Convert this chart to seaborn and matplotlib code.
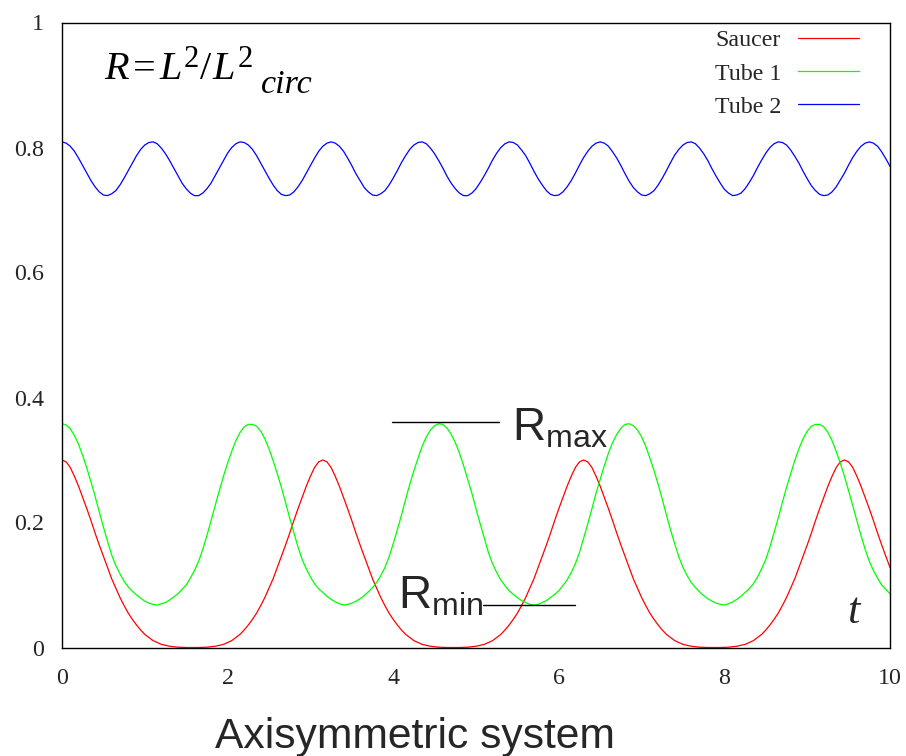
import matplotlib
matplotlib.use('Agg')
import matplotlib.pyplot as plt
import seaborn as sns
import pandas as pd

t = [0.00, 0.05, 0.10, 0.15, 0.20, 0.25, 0.30, 0.35, 0.40, 0.45, 0.50, 0.55, 0.60, 0.65, 0.70, 0.75, 0.80, 0.85, 0.90, 0.95,
     1.00, 1.05, 1.10, 1.15, 1.20, 1.25, 1.30, 1.35, 1.40, 1.45, 1.50, 1.55, 1.60, 1.65, 1.70, 1.75, 1.80, 1.85, 1.90, 1.95,
     2.00, 2.05, 2.10, 2.15, 2.20, 2.25, 2.30, 2.35, 2.40, 2.45, 2.50, 2.55, 2.60, 2.65, 2.70, 2.75, 2.80, 2.85, 2.90, 2.95,
     3.00, 3.05, 3.10, 3.15, 3.20, 3.25, 3.30, 3.35, 3.40, 3.45, 3.50, 3.55, 3.60, 3.65, 3.70, 3.75, 3.80, 3.85, 3.90, 3.95,
     4.00, 4.05, 4.10, 4.15, 4.20, 4.25, 4.30, 4.35, 4.40, 4.45, 4.50, 4.55, 4.60, 4.65, 4.70, 4.75, 4.80, 4.85, 4.90, 4.95,
     5.00, 5.05, 5.10, 5.15, 5.20, 5.25, 5.30, 5.35, 5.40, 5.45, 5.50, 5.55, 5.60, 5.65, 5.70, 5.75, 5.80, 5.85, 5.90, 5.95,
     6.00, 6.05, 6.10, 6.15, 6.20, 6.25, 6.30, 6.35, 6.40, 6.45, 6.50, 6.55, 6.60, 6.65, 6.70, 6.75, 6.80, 6.85, 6.90, 6.95,
     7.00, 7.05, 7.10, 7.15, 7.20, 7.25, 7.30, 7.35, 7.40, 7.45, 7.50, 7.55, 7.60, 7.65, 7.70, 7.75, 7.80, 7.85, 7.90, 7.95,
     8.00, 8.05, 8.10, 8.15, 8.20, 8.25, 8.30, 8.35, 8.40, 8.45, 8.50, 8.55, 8.60, 8.65, 8.70, 8.75, 8.80, 8.85, 8.90, 8.95,
     9.00, 9.05, 9.10, 9.15, 9.20, 9.25, 9.30, 9.35, 9.40, 9.45, 9.50, 9.55, 9.60, 9.65, 9.70, 9.75, 9.80, 9.85, 9.90, 9.95,
     10.00]

saucer = [0.300, 0.297, 0.288, 0.274, 0.258, 0.240, 0.222, 0.203, 0.183, 0.164, 0.146, 0.128, 0.110, 0.095, 0.080, 0.067, 0.055, 0.045, 0.036, 0.028,
          0.021, 0.016, 0.011, 0.008, 0.005, 0.0035, 0.002, 0.0012, 0.0005, 0.0002, 0.0, 0.0, 0.0, 0.0, 0.0002, 0.0005, 0.0012, 0.002, 0.0035, 0.005,
          0.008, 0.011, 0.016, 0.021, 0.028, 0.036, 0.045, 0.055, 0.067, 0.080, 0.095, 0.110, 0.128, 0.146, 0.164, 0.183, 0.203, 0.222, 0.240, 0.258,
          0.274, 0.288, 0.297, 0.300, 0.297, 0.288, 0.274, 0.258, 0.240, 0.222, 0.203, 0.183, 0.164, 0.146, 0.128, 0.110, 0.095, 0.080, 0.067, 0.055,
          0.045, 0.036, 0.028, 0.021, 0.016, 0.011, 0.008, 0.005, 0.0035, 0.002, 0.0012, 0.0005, 0.0002, 0.0, 0.0, 0.0, 0.0, 0.0002, 0.0005, 0.0012,
          0.002, 0.0035, 0.005, 0.008, 0.011, 0.016, 0.021, 0.028, 0.036, 0.045, 0.055, 0.067, 0.080, 0.095, 0.110, 0.128, 0.146, 0.164, 0.183, 0.203,
          0.222, 0.240, 0.258, 0.274, 0.288, 0.297, 0.300, 0.297, 0.288, 0.274, 0.258, 0.240, 0.222, 0.203, 0.183, 0.164, 0.146, 0.128, 0.110, 0.095,
          0.080, 0.067, 0.055, 0.045, 0.036, 0.028, 0.021, 0.016, 0.011, 0.008, 0.005, 0.0035, 0.002, 0.0012, 0.0005, 0.0002, 0.0, 0.0, 0.0, 0.0,
          0.0002, 0.0005, 0.0012, 0.002, 0.0035, 0.005, 0.008, 0.011, 0.016, 0.021, 0.028, 0.036, 0.045, 0.055, 0.067, 0.080, 0.095, 0.110, 0.128, 0.146,
          0.164, 0.183, 0.203, 0.222, 0.240, 0.258, 0.274, 0.288, 0.297, 0.300, 0.297, 0.288, 0.274, 0.258, 0.240, 0.222, 0.203, 0.183, 0.164, 0.146,
          0.128]

tube1 = [0.358, 0.356, 0.350, 0.339, 0.325, 0.307, 0.287, 0.265, 0.242, 0.217, 0.193, 0.170, 0.148, 0.131, 0.118, 0.106, 0.097, 0.090, 0.084, 0.079,
         0.074, 0.071, 0.069, 0.068, 0.070, 0.072, 0.076, 0.081, 0.086, 0.093, 0.100, 0.111, 0.123, 0.138, 0.157, 0.179, 0.203, 0.227, 0.251, 0.274,
         0.295, 0.314, 0.331, 0.344, 0.353, 0.357, 0.357, 0.354, 0.346, 0.334, 0.318, 0.299, 0.278, 0.256, 0.232, 0.207, 0.184, 0.161, 0.141, 0.126,
         0.113, 0.102, 0.094, 0.088, 0.082, 0.077, 0.073, 0.070, 0.068, 0.069, 0.071, 0.074, 0.078, 0.083, 0.089, 0.096, 0.104, 0.115, 0.128, 0.145,
         0.166, 0.188, 0.212, 0.237, 0.261, 0.283, 0.303, 0.322, 0.337, 0.348, 0.355, 0.358, 0.357, 0.351, 0.341, 0.328, 0.311, 0.291, 0.269, 0.247,
         0.222, 0.198, 0.175, 0.152, 0.134, 0.120, 0.108, 0.099, 0.091, 0.085, 0.080, 0.075, 0.072, 0.069, 0.068, 0.069, 0.072, 0.075, 0.080, 0.085,
         0.091, 0.099, 0.108, 0.120, 0.134, 0.152, 0.175, 0.198, 0.222, 0.247, 0.269, 0.291, 0.311, 0.328, 0.341, 0.351, 0.357, 0.358, 0.355, 0.348,
         0.337, 0.322, 0.303, 0.283, 0.261, 0.237, 0.212, 0.188, 0.166, 0.145, 0.128, 0.115, 0.104, 0.096, 0.089, 0.083, 0.078, 0.074, 0.071, 0.069,
         0.068, 0.070, 0.073, 0.077, 0.082, 0.088, 0.094, 0.102, 0.113, 0.126, 0.141, 0.161, 0.184, 0.207, 0.232, 0.256, 0.278, 0.299, 0.318, 0.334,
         0.346, 0.354, 0.357, 0.357, 0.353, 0.344, 0.331, 0.314, 0.295, 0.274, 0.251, 0.227, 0.203, 0.179, 0.157, 0.138, 0.123, 0.111, 0.100, 0.093,
         0.086]

tube2 = [0.809, 0.807, 0.802, 0.794, 0.783, 0.771, 0.759, 0.747, 0.737, 0.729, 0.724, 0.723, 0.726, 0.731, 0.740, 0.751, 0.763, 0.775, 0.787, 0.797,
         0.804, 0.808, 0.809, 0.806, 0.799, 0.790, 0.779, 0.767, 0.755, 0.743, 0.734, 0.727, 0.723, 0.723, 0.727, 0.734, 0.743, 0.755, 0.767, 0.779,
         0.791, 0.800, 0.806, 0.809, 0.808, 0.804, 0.797, 0.787, 0.775, 0.763, 0.751, 0.740, 0.731, 0.725, 0.723, 0.724, 0.729, 0.737, 0.747, 0.759,
         0.771, 0.783, 0.794, 0.802, 0.807, 0.809, 0.807, 0.802, 0.794, 0.783, 0.771, 0.758, 0.747, 0.736, 0.729, 0.724, 0.723, 0.726, 0.731, 0.740,
         0.751, 0.763, 0.776, 0.787, 0.797, 0.804, 0.808, 0.809, 0.806, 0.799, 0.790, 0.779, 0.767, 0.754, 0.743, 0.734, 0.727, 0.723, 0.723, 0.727,
         0.734, 0.744, 0.755, 0.767, 0.780, 0.791, 0.800, 0.806, 0.809, 0.808, 0.804, 0.796, 0.787, 0.775, 0.762, 0.750, 0.740, 0.731, 0.725, 0.723,
         0.724, 0.729, 0.737, 0.747, 0.759, 0.772, 0.784, 0.794, 0.802, 0.807, 0.809, 0.807, 0.802, 0.793, 0.783, 0.771, 0.758, 0.746, 0.736, 0.729,
         0.724, 0.723, 0.726, 0.731, 0.740, 0.751, 0.763, 0.776, 0.788, 0.797, 0.804, 0.808, 0.809, 0.806, 0.799, 0.790, 0.779, 0.766, 0.754, 0.743,
         0.733, 0.727, 0.723, 0.724, 0.727, 0.734, 0.744, 0.755, 0.768, 0.780, 0.791, 0.800, 0.806, 0.809, 0.808, 0.804, 0.796, 0.786, 0.775, 0.762,
         0.750, 0.739, 0.731, 0.725, 0.723, 0.724, 0.729, 0.737, 0.748, 0.759, 0.772, 0.784, 0.794, 0.802, 0.807, 0.809, 0.807, 0.802, 0.793, 0.782,
         0.770]

series_names = ['Saucer', 'Tube 1', 'Tube 2']
series_colors = ['#ff0000', '#00ff00', '#0000ff']
x_ticks = [0, 2, 4, 6, 8, 10]
x_tick_labels = ['0', '2', '4', '6', '8', '10']
y_ticks = [0, 0.2, 0.4, 0.6, 0.8, 1.0]
y_tick_labels = ['0', '0.2', '0.4', '0.6', '0.8', '1']

# ---- style ----
sns.set_style('white')
plt.rcParams['font.family'] = ['Liberation Serif', 'DejaVu Serif']
plt.rcParams['mathtext.fontset'] = 'custom'
plt.rcParams['mathtext.rm'] = 'Liberation Serif'
plt.rcParams['mathtext.it'] = 'Liberation Serif:italic'
plt.rcParams['mathtext.sf'] = 'Liberation Sans'

n = len(t)
df = pd.DataFrame({
    't': t * 3,
    'R': saucer + tube1 + tube2,
    'series': [series_names[0]] * n + [series_names[1]] * n + [series_names[2]] * n,
})

W, H = 906, 756
fig = plt.figure(figsize=(W / 100, H / 100), dpi=100)
ax = fig.add_axes([62 / W, 1 - 647.5 / H, 828 / W, 625 / H])

sns.lineplot(data=df, x='t', y='R', hue='series', hue_order=series_names,
             palette=dict(zip(series_names, series_colors)), estimator=None,
             sort=False, linewidth=0.9, ax=ax)

ax.set_xlim(0, 10)
ax.set_ylim(0, 1)
ax.set_xticks(x_ticks)
ax.set_xticklabels(x_tick_labels)
ax.set_yticks(y_ticks)
ax.set_yticklabels(y_tick_labels)
ax.tick_params(axis='both', length=0, labelsize=17.3)
ax.tick_params(axis='x', pad=15)
ax.tick_params(axis='y', pad=13)
ax.set_xlabel('')
ax.set_ylabel('')
for sp in ax.spines.values():
    sp.set_visible(True)
    sp.set_color('black')
    sp.set_linewidth(1.0)

handles, labels = ax.get_legend_handles_labels()
leg = ax.legend(handles, labels, loc='upper right', bbox_to_anchor=(0.9626, 0.9886),
                frameon=False, markerfirst=False, fontsize=17.3, handlelength=2.55,
                handletextpad=0.7, labelspacing=0.47, borderpad=0, borderaxespad=0)
for ln in leg.get_lines():
    ln.set_linewidth(0.9)

# formula label R=L^2/L^2_circ, built from pieces (pixel positions from the top-left)
pieces = [('R', 104, 79, 29, 'italic'), ('=', 133, 79, 29, 'normal'),
          ('L', 159, 79, 29, 'italic'), ('2', 184, 67, 22, 'normal'),
          ('/', 200, 79, 29, 'normal'), ('L', 212, 79, 29, 'italic'),
          ('2', 238, 67, 22, 'normal'), ('circ', 261, 93, 24.5, 'italic')]
for s, px, py, fs, st in pieces:
    fig.text(px / W, 1 - py / H, s, fontsize=fs, style=st, ha='left', va='baseline',
             color='black')

ax.text(5.431, 0.332, r'$\mathsf{R_{max}}$', fontsize=33, ha='left', va='baseline')
ax.text(4.058, 0.0632, r'$\mathsf{R_{min}}$', fontsize=33, ha='left', va='baseline')
ax.text(9.477, 0.039, 't', fontsize=32, style='italic', ha='left', va='baseline')
ax.plot([3.986, 5.278], [0.361, 0.361], color='black', lw=1.0)
ax.plot([5.085, 6.196], [0.068, 0.068], color='black', lw=1.0)

fig.text(415 / W, 1 - 748 / H, 'Axisymmetric system', family='Liberation Sans',
         fontsize=30.7, ha='center', va='baseline')

fig.savefig('out.png', dpi=100)
